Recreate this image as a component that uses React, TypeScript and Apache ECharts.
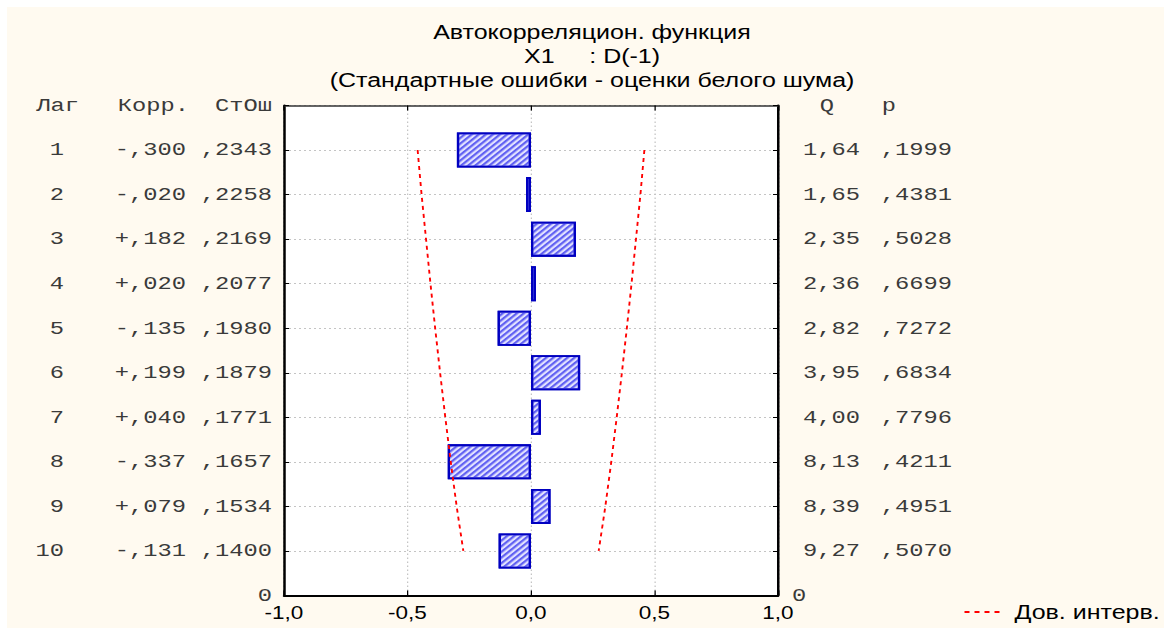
import React, { useEffect, useRef } from "react";
import * as echarts from "echarts";

// ---- data ----
const lags = ["1", "2", "3", "4", "5", "6", "7", "8", "9", "10"];
const corr = [-0.3, -0.02, 0.182, 0.02, -0.135, 0.199, 0.04, -0.337, 0.079, -0.131];
const stdErr = [0.2343, 0.2258, 0.2169, 0.2077, 0.198, 0.1879, 0.1771, 0.1657, 0.1534, 0.14];
const qStat = [1.64, 1.65, 2.35, 2.36, 2.82, 3.95, 4.0, 8.13, 8.39, 9.27];
const pValue = [0.1999, 0.4381, 0.5028, 0.6699, 0.7272, 0.6834, 0.7796, 0.4211, 0.4951, 0.507];
const ciUpper = [0.459, 0.443, 0.425, 0.407, 0.388, 0.368, 0.347, 0.325, 0.301, 0.274];
const ciLower = [-0.459, -0.443, -0.425, -0.407, -0.388, -0.368, -0.347, -0.325, -0.301, -0.274];
const xTicks = [-1, -0.5, 0, 0.5, 1];
const titleLines = [
  "Автокорреляцион. функция",
  "X1     : D(-1)",
  "(Стандартные ошибки - оценки белого шума)",
];
const legendName = "Дов. интерв.";

// horizontal stretch of the original picture
const S = 1.25;
const W = 926;
const H = 621;

const fmtCorr = (v: number) =>
  (v < 0 ? "-" : "+") + "," + String(Math.round(Math.abs(v) * 1000)).padStart(3, "0");
const fmtDec4 = (v: number) => "," + String(Math.round(v * 10000)).padStart(4, "0");
const fmtQ = (v: number) => v.toFixed(2).replace(".", ",");

export default function App() {
  const ref = useRef<HTMLDivElement>(null);
  useEffect(() => {
    if (!ref.current) return;
    const chart = echarts.init(ref.current, undefined, { renderer: "svg" });
    const cats = ["hdr", ...lags, "zero"];
    const wrap = (arr: number[]) => ["-", ...arr, "-"];
    const mono = "'Liberation Mono', 'DejaVu Sans Mono', monospace";
    const sans = "'Liberation Sans', Arial, sans-serif";
    const grid = { color: "#c4c4c4", type: [1.6, 2.4], width: 1 };

    const option: any = {
      animation: false,
      backgroundColor: "#fffaf0",
      title: {
        text: titleLines.join("\n"),
        left: 468,
        textAlign: "center",
        top: 13,
        padding: 0,
        textStyle: {
          fontFamily: sans,
          fontSize: 20,
          fontWeight: "normal",
          color: "#000",
          lineHeight: 24,
        },
      },
      legend: {
        data: [legendName],
        left: 765,
        top: 595,
        padding: 0,
        itemWidth: 30,
        itemHeight: 14,
        itemGap: 0,
        itemStyle: { opacity: 0 },
        textStyle: { fontFamily: sans, fontSize: 20, color: "#000", padding: [0, 0, 0, 5] },
      },
      grid: {
        left: 221.6,
        right: 309.2,
        top: 98.5,
        bottom: 32.5,
        show: true,
        backgroundColor: "#ffffff",
        borderWidth: 0,
      },
      xAxis: [
        {
          type: "value",
          position: "bottom",
          min: -1,
          max: 1,
          interval: 0.5,
          axisLine: { show: true, onZero: false, lineStyle: { color: "#000", width: 2 } },
          axisTick: { show: true, inside: true, length: 5, lineStyle: { color: "#000" } },
          axisLabel: {
            margin: 8,
            fontFamily: sans,
            fontSize: 18,
            color: "#000",
            formatter: (v: number) => (xTicks.includes(v) ? v.toFixed(1).replace(".", ",") : ""),
          },
          splitLine: { show: true, lineStyle: grid },
        },
        {
          type: "value",
          position: "top",
          min: -1,
          max: 1,
          interval: 0.5,
          axisLine: { show: true, onZero: false, lineStyle: { color: "#333", width: 1.5 } },
          axisTick: { show: true, inside: true, length: 5, lineStyle: { color: "#000" } },
          axisLabel: { show: false },
          splitLine: { show: false },
        },
      ],
      yAxis: [
        {
          type: "category",
          data: cats,
          inverse: true,
          boundaryGap: false,
          position: "left",
          axisLine: { show: true, onZero: false, lineStyle: { color: "#000", width: 2 } },
          axisTick: { show: true, inside: true, length: 4, interval: 0, lineStyle: { color: "#000" } },
          splitLine: { show: true, interval: 0, lineStyle: grid },
          axisLabel: {
            interval: 0,
            margin: 9.6,
            fontFamily: mono,
            fontSize: 19,
            color: "#3a3a3a",
            formatter: (_v: string, i: number) => {
              if (i === 0) return "{hl|Лаг}{hk|Корр.}{hs|СтОш}";
              if (i === cats.length - 1) return "0";
              const k = i - 1;
              return `{l|${lags[k]}}{c|${fmtCorr(corr[k])}}{s|${fmtDec4(stdErr[k])}}`;
            },
            rich: {
              hl: { width: 63.2, align: "right" },
              hk: { width: 88, align: "right" },
              hs: { width: 66.4, align: "right" },
              l: { width: 48, align: "right" },
              c: { width: 97.6, align: "right" },
              s: { width: 68.8, align: "right" },
            },
          },
        },
        {
          type: "category",
          data: cats,
          inverse: true,
          boundaryGap: false,
          position: "right",
          axisLine: { show: true, onZero: false, lineStyle: { color: "#000", width: 2 } },
          axisTick: { show: true, inside: true, length: 4, interval: 0, lineStyle: { color: "#000" } },
          splitLine: { show: false },
          axisLabel: {
            interval: 0,
            margin: 11.2,
            fontFamily: mono,
            fontSize: 19,
            color: "#3a3a3a",
            formatter: (_v: string, i: number) => {
              if (i === 0) return "{hq|Q}{hp|p}";
              if (i === cats.length - 1) return "0";
              const k = i - 1;
              return `{q|${fmtQ(qStat[k])}}{p|${fmtDec4(pValue[k])}}`;
            },
            rich: {
              hq: { width: 33.6, align: "right" },
              hp: { width: 49.6, align: "right" },
              q: { width: 54.4, align: "right" },
              p: { width: 73.6, align: "right" },
            },
          },
        },
      ],
      series: [
        {
          type: "bar",
          name: "Корр.",
          xAxisIndex: 0,
          yAxisIndex: 0,
          data: wrap(corr),
          barWidth: 35,
          itemStyle: {
            color: "#e2e2ff",
            borderColor: "#0000c0",
            borderWidth: 1.8,
            decal: {
              symbol: "rect",
              symbolSize: 1,
              color: "#6060f2",
              dashArrayX: [1, 0],
              dashArrayY: [2, 2],
              rotation: -Math.PI / 4,
            },
          },
          z: 3,
        },
        {
          type: "line",
          name: legendName,
          xAxisIndex: 0,
          yAxisIndex: 0,
          data: wrap(ciLower),
          symbol: "none",
          lineStyle: { color: "#ff0000", width: 1.5, type: [4, 4] },
          itemStyle: { color: "#ff0000" },
          z: 4,
        },
        {
          type: "line",
          name: legendName,
          xAxisIndex: 0,
          yAxisIndex: 0,
          data: wrap(ciUpper),
          symbol: "none",
          lineStyle: { color: "#ff0000", width: 1.5, type: [4, 4] },
          itemStyle: { color: "#ff0000" },
          z: 4,
        },
      ],
    };
    chart.setOption(option);
    return () => chart.dispose();
  }, []);

  return (
    <div style={{ position: "fixed", left: 0, top: 0, width: 1164, height: 628, background: "#ffffff", overflow: "hidden" }}>
      <div
        ref={ref}
        style={{
          position: "absolute",
          left: 7,
          top: 7,
          width: W,
          height: H,
          transform: `scaleX(${S})`,
          transformOrigin: "0 0",
        }}
      />
    </div>
  );
}
